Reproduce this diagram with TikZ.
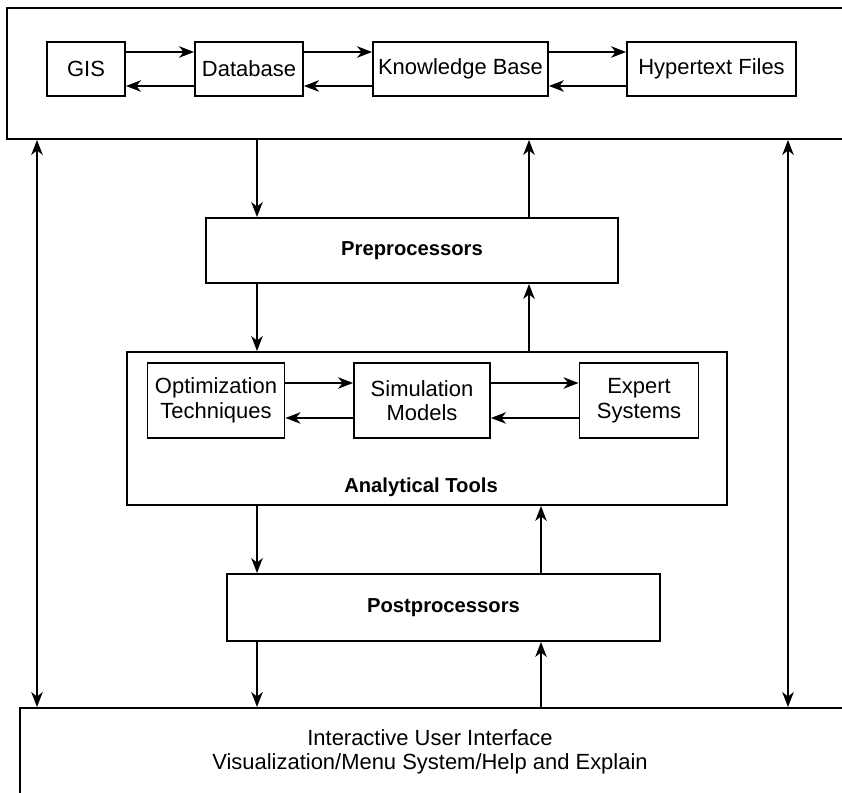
\documentclass[tikz,border=0pt]{standalone}
\usepackage{fontspec}
\setmainfont{Liberation Sans}
\usetikzlibrary{arrows.meta,positioning,calc}

\begin{document}
\begin{tikzpicture}[x=0.02cm, y=-0.02cm, >={Stealth[length=8.5pt,width=6.5pt,inset=2.5pt]},
  block/.style={draw, line width=1.1pt, inner sep=0pt, align=center, font=\fontsize{12.5}{14}\selectfont},
  heading/.style={font=\fontsize{11.5}{14}\selectfont\bfseries},
  link/.style={->, line width=0.9pt}]
  \useasboundingbox (0,0) rectangle (842,793);
  \clip (0,0) rectangle (842,793);
  \node[block, minimum width=17.46cm, minimum height=2.62cm] (store) at (443.5,73.5) {};
  \node[block, minimum width=1.56cm, minimum height=1.08cm] (gis) at (86,69) {GIS};
  \node[block, minimum width=2.16cm, minimum height=1.08cm] (db) at (249,69) {Database};
  \node[block, minimum width=3.5cm, minimum height=1.08cm] (kb) at (460.5,69) {Knowledge Base};
  \node[block, minimum width=3.38cm, minimum height=1.08cm] (hyp) at (711.5,69) {Hypertext Files};
  \node[block, heading, minimum width=8.24cm, minimum height=1.3cm] (pre) at (412,250.5) {Preprocessors};
  \node[block, minimum width=12cm, minimum height=3.06cm] (ana) at (427,428.5) {};
  \node[block, minimum width=2.74cm, minimum height=1.5cm] (opt) at (216,400.5) {Optimization\\Techniques};
  \node[block, minimum width=2.72cm, minimum height=1.5cm] (sim) at (422,400.5) {Simulation\\Models};
  \node[block, minimum width=2.38cm, minimum height=1.5cm] (exp) at (639,400.5) {Expert\\Systems};
  \node[heading] (analabel) at (421,487) {Analytical Tools};
  \node[block, heading, minimum width=8.66cm, minimum height=1.34cm] (post) at (443.5,607.5) {Postprocessors};
  \node[block, minimum width=17.2cm, minimum height=2.44cm] (ui) at (450,769) {};
  \node[align=center, font=\fontsize{12.5}{14}\selectfont] (uitext) at (430,752) {Interactive User Interface\\Visualization/Menu System/Help and Explain};

  \coordinate (down) at (257,0);
  \coordinate (upA) at (529,0);
  \coordinate (upB) at (541,0);
  \coordinate (sideL) at (37,0);
  \coordinate (sideR) at (788,0);

  \draw[link] ([yshift=0.34cm]gis.east) -- ([yshift=0.34cm]db.west);
  \draw[link] ([yshift=-0.34cm]db.west) -- ([yshift=-0.34cm]gis.east);
  \draw[link] ([yshift=0.34cm]db.east) -- ([yshift=0.34cm]kb.west);
  \draw[link] ([yshift=-0.34cm]kb.west) -- ([yshift=-0.34cm]db.east);
  \draw[link] ([yshift=0.34cm]kb.east) -- ([yshift=0.34cm]hyp.west);
  \draw[link] ([yshift=-0.34cm]hyp.west) -- ([yshift=-0.34cm]kb.east);

  \draw[link] ([yshift=0.35cm]opt.east) -- ([yshift=0.35cm]sim.west);
  \draw[link] ([yshift=-0.35cm]sim.west) -- ([yshift=-0.35cm]opt.east);
  \draw[link] ([yshift=0.35cm]sim.east) -- ([yshift=0.35cm]exp.west);
  \draw[link] ([yshift=-0.35cm]exp.west) -- ([yshift=-0.35cm]sim.east);

  \draw[link] (down |- store.south) -- (down |- pre.north);
  \draw[link] (upA |- pre.north) -- (upA |- store.south);
  \draw[link] (down |- pre.south) -- (down |- ana.north);
  \draw[link] (upA |- ana.north) -- (upA |- pre.south);
  \draw[link] (down |- ana.south) -- (down |- post.north);
  \draw[link] (upB |- post.north) -- (upB |- ana.south);
  \draw[link] (down |- post.south) -- (down |- ui.north);
  \draw[link] (upB |- ui.north) -- (upB |- post.south);
  \draw[link, <->] (sideL |- store.south) -- (sideL |- ui.north);
  \draw[link, <->] (sideR |- store.south) -- (sideR |- ui.north);
\end{tikzpicture}
\end{document}
